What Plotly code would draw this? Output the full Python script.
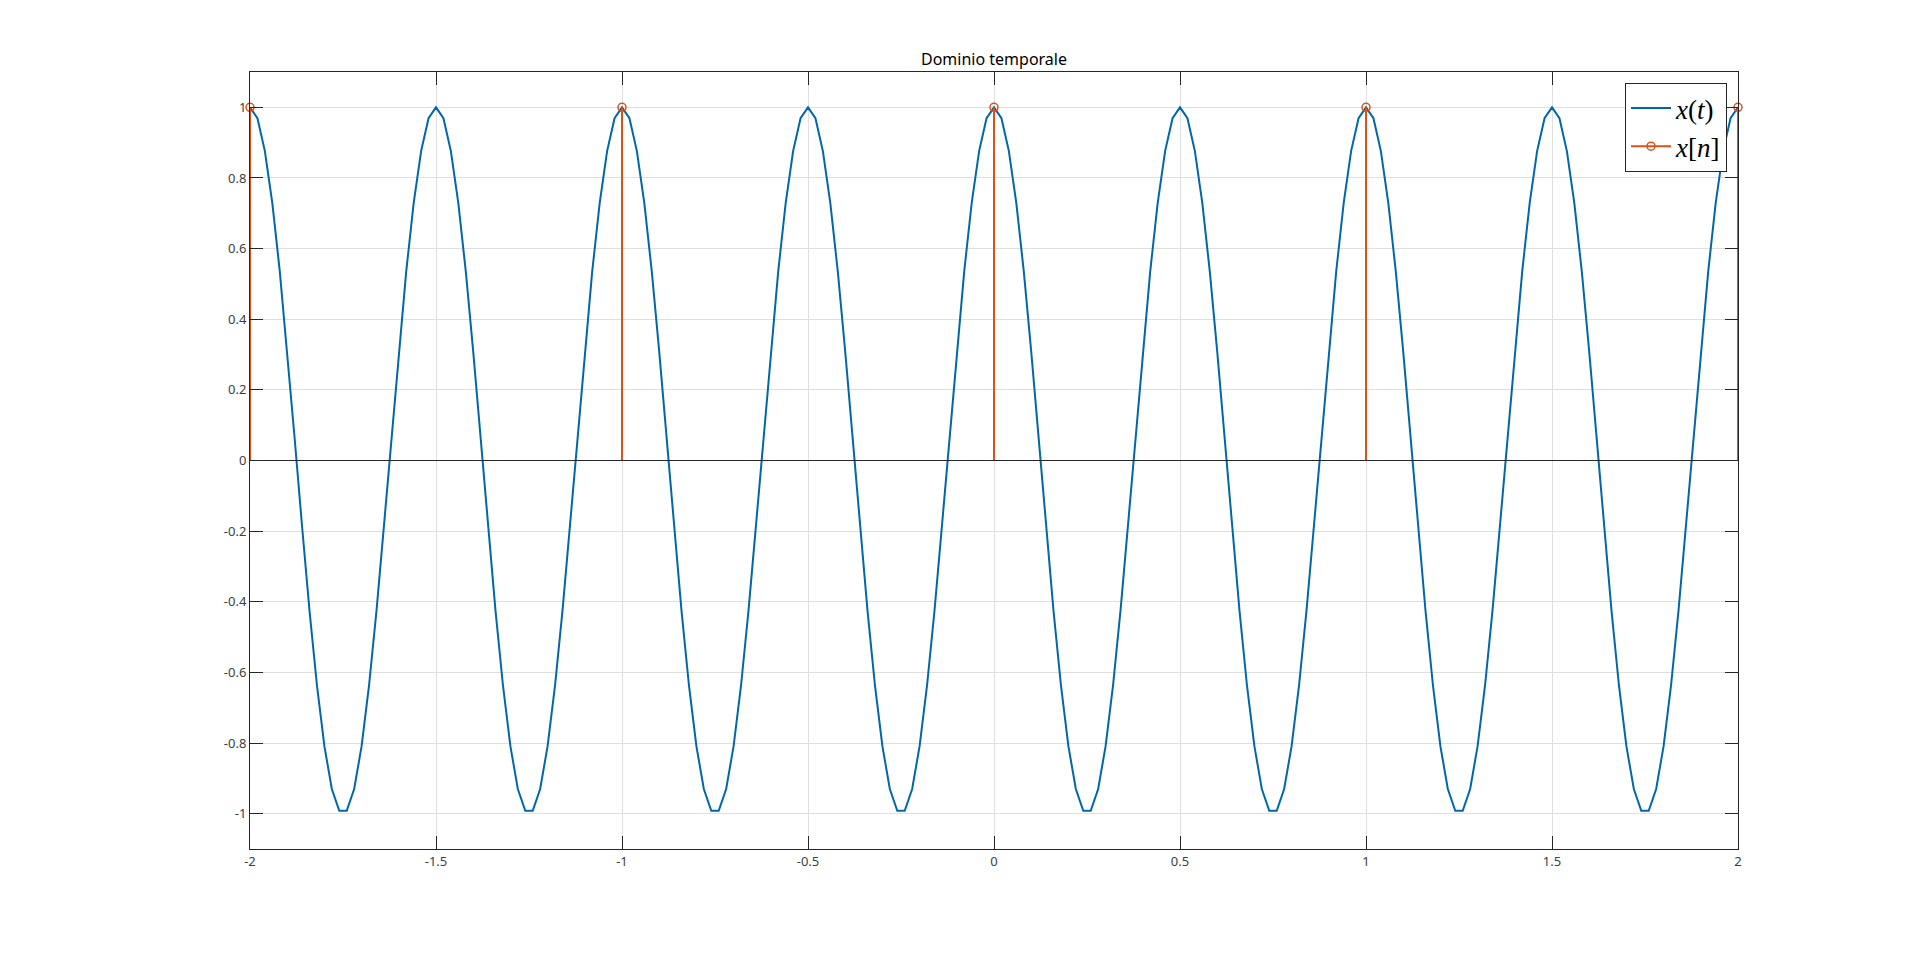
import plotly.graph_objects as go

# Continuous signal x(t), sampled every 0.02 s from t = -2 to t = 2
t_start = -2.0
t_step = 0.02
xt_values = [
    1.0, 0.969, 0.876, 0.729, 0.536, 0.309, 0.063, -0.187, -0.426, -0.637, -0.809, -0.930, -0.992,
    -0.992, -0.930, -0.809, -0.637, -0.426, -0.187, 0.063, 0.309, 0.536, 0.729, 0.876, 0.969,
    1.0, 0.969, 0.876, 0.729, 0.536, 0.309, 0.063, -0.187, -0.426, -0.637, -0.809, -0.930, -0.992,
    -0.992, -0.930, -0.809, -0.637, -0.426, -0.187, 0.063, 0.309, 0.536, 0.729, 0.876, 0.969,
    1.0, 0.969, 0.876, 0.729, 0.536, 0.309, 0.063, -0.187, -0.426, -0.637, -0.809, -0.930, -0.992,
    -0.992, -0.930, -0.809, -0.637, -0.426, -0.187, 0.063, 0.309, 0.536, 0.729, 0.876, 0.969,
    1.0, 0.969, 0.876, 0.729, 0.536, 0.309, 0.063, -0.187, -0.426, -0.637, -0.809, -0.930, -0.992,
    -0.992, -0.930, -0.809, -0.637, -0.426, -0.187, 0.063, 0.309, 0.536, 0.729, 0.876, 0.969,
    1.0, 0.969, 0.876, 0.729, 0.536, 0.309, 0.063, -0.187, -0.426, -0.637, -0.809, -0.930, -0.992,
    -0.992, -0.930, -0.809, -0.637, -0.426, -0.187, 0.063, 0.309, 0.536, 0.729, 0.876, 0.969,
    1.0, 0.969, 0.876, 0.729, 0.536, 0.309, 0.063, -0.187, -0.426, -0.637, -0.809, -0.930, -0.992,
    -0.992, -0.930, -0.809, -0.637, -0.426, -0.187, 0.063, 0.309, 0.536, 0.729, 0.876, 0.969,
    1.0, 0.969, 0.876, 0.729, 0.536, 0.309, 0.063, -0.187, -0.426, -0.637, -0.809, -0.930, -0.992,
    -0.992, -0.930, -0.809, -0.637, -0.426, -0.187, 0.063, 0.309, 0.536, 0.729, 0.876, 0.969,
    1.0, 0.969, 0.876, 0.729, 0.536, 0.309, 0.063, -0.187, -0.426, -0.637, -0.809, -0.930, -0.992,
    -0.992, -0.930, -0.809, -0.637, -0.426, -0.187, 0.063, 0.309, 0.536, 0.729, 0.876, 0.969,
    1.0,
]
t_values = [round(t_start + t_step * i, 2) for i in range(len(xt_values))]

# Discrete samples x[n]
n_times = [-2, -1, 0, 1, 2]
xn_values = [1, 1, 1, 1, 1]

# Tick labels
x_tickvals = [-2, -1.5, -1, -0.5, 0, 0.5, 1, 1.5, 2]
x_ticktext = ["-2", "-1.5", "-1", "-0.5", "0", "0.5", "1", "1.5", "2"]
y_tickvals = [-1, -0.8, -0.6, -0.4, -0.2, 0, 0.2, 0.4, 0.6, 0.8, 1]
y_ticktext = ["-1", "-0.8", "-0.6", "-0.4", "-0.2", "0", "0.2", "0.4", "0.6", "0.8", "1"]

BLUE = "#0068A8"
ORANGE = "#D95319"
AX = "#262626"

# page body has an 8px margin, so the figure is sized to fit the window
W, H, OFF = 1904, 938, 8

fig = go.Figure()

fig.add_trace(go.Scatter(
    x=t_values, y=xt_values, mode="lines",
    line=dict(color=BLUE, width=2),
    name="<i>x</i>(<i>t</i>)", showlegend=True,
))

# stems
stem_x, stem_y = [], []
for tx, v in zip(n_times, xn_values):
    stem_x += [tx, tx, None]
    stem_y += [0, v, None]
fig.add_trace(go.Scatter(
    x=stem_x, y=stem_y, mode="lines",
    line=dict(color=ORANGE, width=2),
    showlegend=False, legendgroup="xn", hoverinfo="skip", cliponaxis=False,
))
fig.add_trace(go.Scatter(
    x=n_times, y=xn_values, mode="markers",
    marker=dict(symbol="circle-open", size=8, color=ORANGE, line=dict(width=1.5, color=ORANGE)),
    showlegend=False, legendgroup="xn", cliponaxis=False,
))
fig.add_trace(go.Scatter(
    x=[None], y=[None], mode="lines+markers",
    line=dict(color=ORANGE, width=2),
    marker=dict(symbol="circle-open", size=8, color=ORANGE, line=dict(width=1.5, color=ORANGE)),
    name="<i>x</i>[<i>n</i>]", legendgroup="xn", showlegend=True,
))

# stem baseline
fig.add_shape(type="line", xref="x", yref="y", x0=-2, x1=2, y0=0, y1=0,
              line=dict(color=AX, width=1), layer="above")

axis_common = dict(
    showline=True, linecolor=AX, linewidth=1, mirror="ticks",
    ticks="inside", ticklen=13, tickwidth=1, tickcolor=AX,
    showgrid=True, gridcolor="#DFDFDF", gridwidth=1,
    zeroline=False,
    tickfont=dict(family="Noto Sans", size=13, color="#404040"),
)

fig.update_xaxes(range=[-2, 2], tickvals=x_tickvals, ticktext=x_ticktext, **axis_common)
fig.update_yaxes(range=[-1.1, 1.1], tickvals=y_tickvals, ticktext=y_ticktext, **axis_common)

left, right, top, bottom = 250, 1738, 72, 849
fig.update_layout(
    width=W, height=H,
    margin=dict(l=left - OFF, r=W + OFF - right, t=top - OFF, b=H + OFF - bottom),
    paper_bgcolor="white", plot_bgcolor="white",
    title=dict(text="Dominio temporale", x=((left + right) / 2 - OFF) / W, xanchor="center",
               y=1 - (59 - OFF) / H, yanchor="middle", yref="container",
               font=dict(family="Noto Sans", size=16, color="#000000")),
    legend=dict(x=(1727 - left) / (right - left), xanchor="right",
                y=(bottom - 83) / (bottom - top), yanchor="top",
                bgcolor="white", bordercolor=AX, borderwidth=1,
                font=dict(family="Liberation Serif", size=27, color="#000000"),
                tracegroupgap=0, itemwidth=40),
    showlegend=True,
)

fig.write_html("out.html")
